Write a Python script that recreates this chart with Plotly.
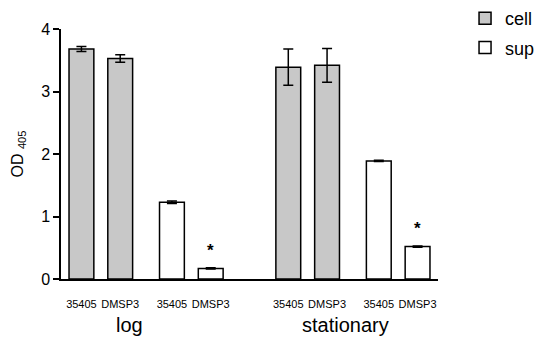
import plotly.graph_objects as go

groups = ["log", "stationary"]
strains = ["35405", "DMSP3"]
fractions = ["cell", "sup"]

# values ordered: log-35405, log-DMSP3, stationary-35405, stationary-DMSP3
cell_vals = [3.68, 3.53, 3.39, 3.42]
cell_err = [0.04, 0.06, 0.29, 0.27]
sup_vals = [1.23, 0.17, 1.89, 0.52]
sup_err = [0.02, 0.01, 0.01, 0.01]
significant_sup = [False, True, False, True]

# layout of slots (in arbitrary units)
STRAIN_STEP, FRACTION_STEP, GROUP_STEP = 3, 7, 16

def positions(fi):
    xs = []
    for gi in range(len(groups)):
        for si in range(len(strains)):
            xs.append(gi * GROUP_STEP + fi * FRACTION_STEP + si * STRAIN_STEP)
    return xs

x_cell = positions(0)
x_sup = positions(1)

FONT = "Liberation Sans, Arial, Helvetica, sans-serif"

fig = go.Figure()
fig.add_trace(go.Bar(
    name="cell", x=x_cell, y=cell_vals, width=1.92, legendgroup="cell",
    marker=dict(color="#c8c8c8", line=dict(color="black", width=1.5)),
    error_y=dict(type="data", array=cell_err, color="black", thickness=1.5, width=5),
))
fig.add_trace(go.Bar(
    name="sup", x=x_sup, y=sup_vals, width=1.92, legendgroup="sup",
    marker=dict(color="white", line=dict(color="black", width=1.5)),
    error_y=dict(type="data", array=sup_err, color="black", thickness=1.5, width=5),
))

for x, v, e, s in zip(x_sup, sup_vals, sup_err, significant_sup):
    if s:
        fig.add_annotation(x=x, y=v + e, text="<b>*</b>", showarrow=False, yshift=17,
                           font=dict(size=17, color="black", family=FONT))

tickvals = sorted(x_cell + x_sup)
ticktext = [strains[i % 2] for i in range(len(tickvals))]

fig.add_annotation(x=3.7, y=0, yref="y", text="log", showarrow=False, yshift=-46,
                   font=dict(size=20, color="black", family=FONT))
fig.add_annotation(x=20.4, y=0, yref="y", text="stationary", showarrow=False, yshift=-46,
                   font=dict(size=20, color="black", family=FONT))

fig.update_layout(
    width=537, height=345,
    margin=dict(l=61, r=99, t=29, b=66, autoexpand=False),
    plot_bgcolor="white", paper_bgcolor="white",
    barmode="overlay",
    showlegend=True,
    legend=dict(xref="container", yref="container", x=0.866, y=1.0,
                xanchor="left", yanchor="top",
                font=dict(size=18, family=FONT, color="black"),
                bgcolor="rgba(0,0,0,0)", tracegroupgap=3),
    font=dict(family=FONT, color="black"),
)
fig.update_xaxes(
    range=[-1.58, 27.58], tickvals=tickvals, ticktext=ticktext,
    showline=True, linecolor="black", linewidth=1.5, ticks="",
    showgrid=False, zeroline=False, ticklabelstandoff=14, automargin=False,
    tickfont=dict(size=11, family=FONT, color="black"),
)
fig.update_yaxes(
    range=[0, 4], tickvals=[0, 1, 2, 3, 4],
    showline=True, linecolor="black", linewidth=1.5,
    ticks="outside", ticklen=6, tickwidth=1.5, tickcolor="black",
    showgrid=False, zeroline=False, automargin=False,
    tickfont=dict(size=16, family=FONT, color="black"),
    title=dict(text="OD <sub>405</sub>", font=dict(size=16, family=FONT, color="black"), standoff=14),
)

fig.write_html("out.html", config={"displayModeBar": False},
               post_script="document.body.style.margin='0';")
